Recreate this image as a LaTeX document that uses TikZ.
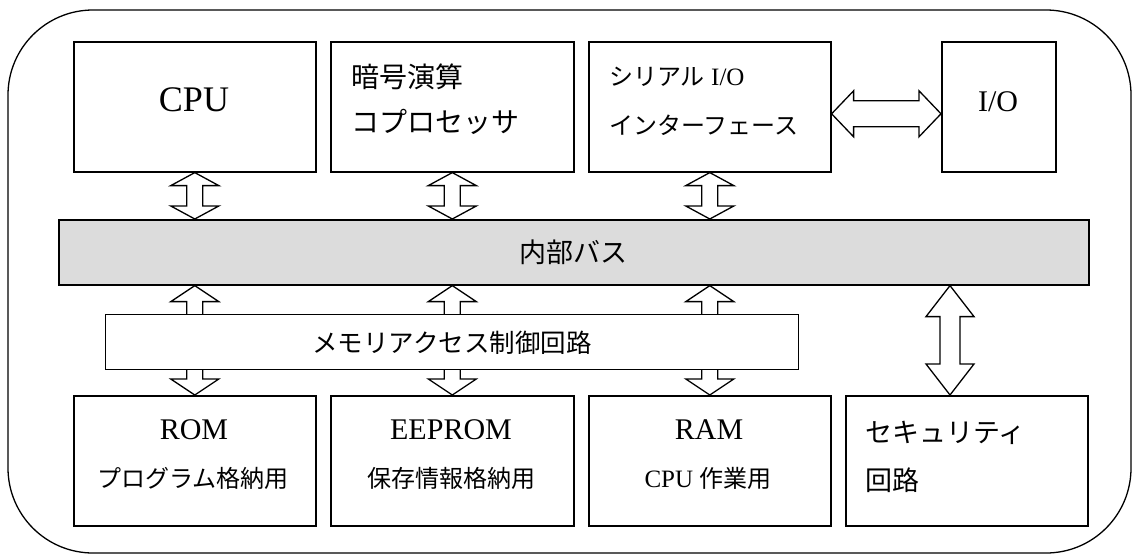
\documentclass[tikz,border=0pt]{standalone}
\usepackage{fontspec}
\setmainfont{Liberation Serif}
\newfontfamily\jp{Noto Sans CJK JP}
\usetikzlibrary{calc}
\tikzset{
  box/.style={draw, line width=1.6pt, fill=white, inner sep=0pt, anchor=north west},
  fat/.style={draw, line width=1.3pt, fill=white, line join=miter},
  lbl/.style={inner sep=0pt, anchor=center},
  lblw/.style={inner sep=0pt, anchor=west},
}
% vertical fat double arrow: top point, bottom point, head length, head half width, shaft half width
\newcommand{\fatV}[5]{%
  \draw[fat] let \p1=#1, \p2=#2 in
    (\x1,\y1) -- (\x1+#4,\y1-#3) -- (\x1+#5,\y1-#3) -- (\x1+#5,\y2+#3) -- (\x1+#4,\y2+#3)
    -- (\x1,\y2) -- (\x1-#4,\y2+#3) -- (\x1-#5,\y2+#3) -- (\x1-#5,\y1-#3) -- (\x1-#4,\y1-#3) -- cycle;}
% horizontal fat double arrow: left point, right point, head length, head half width, shaft half width
\newcommand{\fatH}[5]{%
  \draw[fat] let \p1=#1, \p2=#2 in
    (\x1,\y1) -- (\x1+#3,\y1+#4) -- (\x1+#3,\y1+#5) -- (\x2-#3,\y1+#5) -- (\x2-#3,\y1+#4)
    -- (\x2,\y1) -- (\x2-#3,\y1-#4) -- (\x2-#3,\y1-#5) -- (\x1+#3,\y1-#5) -- (\x1+#3,\y1-#4) -- cycle;}
\newcommand{\fs}[1]{\fontsize{#1}{#1}\selectfont}
\begin{document}
\begin{tikzpicture}[x=1pt, y=-1pt]
\useasboundingbox (0,0) rectangle (1132,554);
% outer frame
\draw[line width=1.3pt, rounded corners=85pt] (8,10) rectangle (1131,553);

% internal bus
\node[box, fill={rgb,255:red,220;green,220;blue,220}, minimum width=1030pt, minimum height=65pt] (bus) at (58,219) {};
\node[lbl] (buslbl) at (bus.center) {\jp\fs{27}内部バス};

% bottom boxes
\node[box, minimum width=242pt, minimum height=130pt] (rom) at (73,395) {};
\node[box, minimum width=243pt, minimum height=130pt] (eeprom) at (330,395) {};
\node[box, minimum width=242pt, minimum height=130pt] (ram) at (588,395) {};
\node[box, minimum width=242pt, minimum height=130pt] (sec) at (845,395) {};

% arrows through memory access controller (behind it)
\fatV{(rom.north |- bus.south)}{(rom.north)}{16pt}{24pt}{8pt}
\fatV{(eeprom.north |- bus.south)}{(eeprom.north)}{16pt}{24pt}{8pt}
\fatV{(ram.north |- bus.south)}{(ram.north)}{16pt}{24pt}{8pt}

% memory access controller
\node[box, line width=1.3pt, minimum width=693pt, minimum height=55pt] (mem) at (105,314) {};
\node[lbl] (memlbl) at (452,343) {\jp\fs{25.5}メモリアクセス制御回路};

% top boxes
\node[box, minimum width=242pt, minimum height=130pt] (cpu) at (73,41) {};
\node[box, minimum width=243pt, minimum height=130pt] (crypto) at (330,41) {};
\node[box, minimum width=242pt, minimum height=130pt] (serial) at (588,41) {};
\node[box, minimum width=114pt, minimum height=130pt] (io) at (941,41) {};

% labels
\node[lbl] (cpulbl) at (194,100) {\fs{36}CPU};
\node[lblw] (cr1) at (351,77) {\jp\fs{28}暗号演算};
\node[lblw] (cr2) at (351,122) {\jp\fs{28}コプロセッサ};
\node[lblw] (se1) at (609,77) {\jp\fs{24}シリアル\rmfamily\fs{25} I/O};
\node[lblw] (se2) at (609,125) {\jp\fs{24}インターフェース};
\node[lbl] (iolbl) at (998,102) {\fs{30}I/O};
\node[lbl] (rom1) at (194,430) {\fs{30}ROM};
\node[lbl] (rom2) at (193,478) {\jp\fs{24}プログラム格納用};
\node[lbl] (ee1) at (451,430) {\fs{30}EEPROM};
\node[lbl] (ee2) at (451,478) {\jp\fs{24}保存情報格納用};
\node[lbl] (ram1) at (709,430) {\fs{30}RAM};
\node[lbl] (ram2) at (708,478) {\fs{25}CPU {\jp\fs{24}作業用}};
\node[lblw] (sec1) at (865,433) {\jp\fs{27}セキュリティ};
\node[lblw] (sec2) at (865,480) {\jp\fs{27}回路};

% top arrows to bus
\fatV{(cpu.south)}{(cpu.south |- bus.north)}{13pt}{24pt}{8pt}
\fatV{(crypto.south)}{(crypto.south |- bus.north)}{13pt}{24pt}{8pt}
\fatV{(serial.south)}{(serial.south |- bus.north)}{13pt}{24pt}{8pt}
% serial <-> I/O
\coordinate (serR) at ($(serial.east)+(0,7)$);
\coordinate (ioL) at ($(io.west)+(0,7)$);
\fatH{(serR)}{(ioL)}{22pt}{23pt}{13pt}
% bus <-> security
\coordinate (secT) at ($(sec.north west)+(105,0)$);
\fatV{(secT |- bus.south)}{(secT)}{31pt}{24pt}{10pt}
\end{tikzpicture}
\end{document}
